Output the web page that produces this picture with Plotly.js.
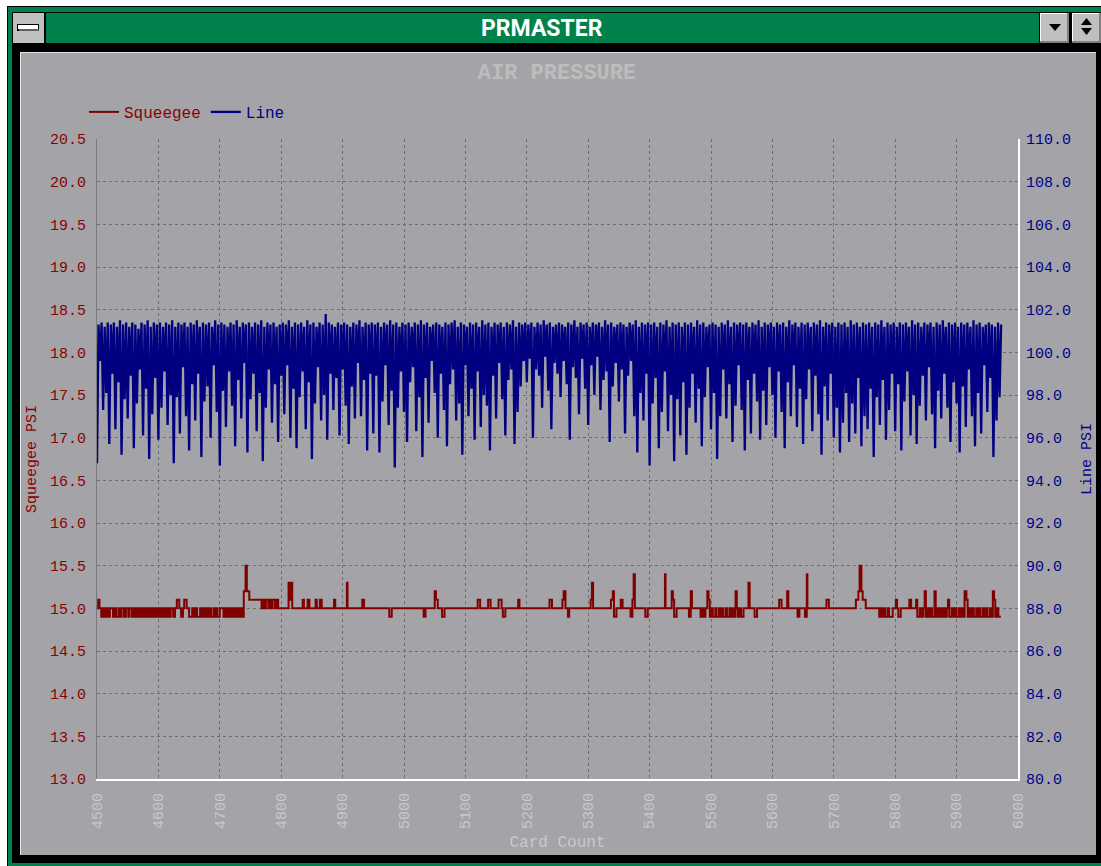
<!DOCTYPE html>
<html>
<head>
<meta charset="utf-8">
<script src="https://cdn.plot.ly/plotly-3.0.1.min.js"></script>
<style>
  html, body { margin: 0; padding: 0; background: #000; }
  #chart { width: 1101px; height: 866px; }
</style>
</head>
<body>
<div id="chart"></div>
<script>
// ---------------- DATA ----------------
const chartTitle = 'AIR PRESSURE';
const windowTitle = 'PRMASTER';
const seriesNames = ['Squeegee', 'Line'];

// x-axis ticks (card count) and the two y-axis tick sets
const cardTicks = [4500, 4600, 4700, 4800, 4900, 5000, 5100, 5200, 5300, 5400, 5500, 5600, 5700, 5800, 5900, 6000];
const squeegeeTicks = [13.0, 13.5, 14.0, 14.5, 15.0, 15.5, 16.0, 16.5, 17.0, 17.5, 18.0, 18.5, 19.0, 19.5, 20.0, 20.5];
const lineTicks = [80, 82, 84, 86, 88, 90, 92, 94, 96, 98, 100, 102, 104, 106, 108, 110];

// Squeegee PSI: [card count where the reading changes, new reading] (drawn as steps)
const squeegeeSteps = [
  [4500,15.0],[4502,15.1],[4504,15.0],[4507,14.9],[4509,15.0],[4512,14.9],[4515,15.0],[4518,14.9],[4521,15.0],[4526,14.9],
  [4529,15.0],[4532,14.9],[4536,15.0],[4538,14.9],[4540,15.0],[4544,14.9],[4547,15.0],[4551,14.9],[4553,15.0],[4557,14.9],
  [4560,15.0],[4563,14.9],[4565,15.0],[4566,14.9],[4569,15.0],[4570,14.9],[4573,15.0],[4574,14.9],[4577,15.0],[4578,14.9],
  [4580,15.0],[4581,14.9],[4583,15.0],[4584,14.9],[4587,15.0],[4588,14.9],[4590,15.0],[4591,14.9],[4593,15.0],[4594,14.9],
  [4596,15.0],[4597,14.9],[4600,15.0],[4601,14.9],[4604,15.0],[4606,14.9],[4608,15.0],[4609,14.9],[4612,15.0],[4613,14.9],
  [4615,15.0],[4618,14.9],[4620,15.0],[4624,14.9],[4627,15.0],[4630,15.1],[4634,15.0],[4637,14.9],[4640,15.0],[4642,15.1],
  [4646,15.0],[4650,14.9],[4655,15.0],[4658,14.9],[4661,15.0],[4663,14.9],[4668,15.0],[4670,14.9],[4673,15.0],[4674,14.9],
  [4677,15.0],[4678,14.9],[4680,15.0],[4682,14.9],[4685,15.0],[4686,14.9],[4690,15.0],[4692,14.9],[4695,15.0],[4696,14.9],
  [4700,15.0],[4706,14.9],[4708,15.0],[4709,14.9],[4711,15.0],[4712,14.9],[4714,15.0],[4715,14.9],[4717,15.0],[4718,14.9],
  [4721,15.0],[4722,14.9],[4724,15.0],[4725,14.9],[4727,15.0],[4728,14.9],[4731,15.0],[4732,14.9],[4734,15.0],[4735,14.9],
  [4737,15.0],[4738,14.9],[4739,15.2],[4742,15.5],[4744,15.2],[4748,15.1],[4768,15.0],[4770,15.1],[4773,15.0],[4775,15.1],
  [4779,15.0],[4781,15.1],[4784,15.0],[4786,15.1],[4790,15.0],[4792,15.1],[4795,15.0],
  [4812,15.3],[4814,15.1],[4816,15.3],[4818,15.0],[4835,15.1],[4837,15.0],[4843,15.1],[4846,15.0],[4856,15.1],[4858,15.0],
  [4863,15.1],[4866,15.0],[4886,15.1],[4888,15.0],[4907,15.3],[4908,15.0],[4932,15.1],[4935,15.0],[4976,14.9],[4980,15.0],
  [5032,14.9],[5035,15.0],[5050,15.2],[5052,15.1],[5055,15.0],[5062,14.9],[5066,15.0],[5120,15.1],[5124,15.0],[5137,15.1],
  [5141,15.0],[5154,15.1],[5159,15.0],[5161,14.9],[5165,15.0],[5186,15.1],[5188,15.0],[5237,15.1],[5241,15.0],[5258,15.1],
  [5260,15.2],[5263,15.0],[5267,14.9],[5269,15.0],[5304,15.1],[5306,15.3],[5308,15.0],[5337,15.1],[5340,15.2],[5342,14.9],
  [5346,15.0],[5353,15.1],[5356,15.0],[5369,14.9],[5372,15.1],[5374,15.4],[5376,15.0],[5393,14.9],[5397,15.0],[5425,15.4],
  [5426,15.0],[5436,15.2],[5438,15.1],[5440,14.9],[5444,15.0],[5464,14.9],[5467,15.2],[5469,15.0],[5483,14.9],[5486,15.0],
  [5488,14.9],[5491,15.0],[5494,15.2],[5496,15.1],[5498,14.9],[5501,15.0],[5503,14.9],[5507,15.0],[5509,14.9],[5513,15.0],
  [5515,14.9],[5518,15.0],[5520,14.9],[5524,15.0],[5526,14.9],[5530,15.0],[5532,14.9],[5535,15.0],[5537,14.9],[5540,15.2],
  [5542,15.0],[5544,14.9],[5547,15.0],[5549,14.9],[5553,15.0],[5561,15.3],[5563,15.0],[5571,14.9],[5575,15.0],[5611,15.1],
  [5615,15.0],[5624,15.2],[5626,15.0],[5641,14.9],[5644,15.0],[5653,14.9],[5656,15.4],[5657,15.0],[5688,15.1],[5692,15.0],
  [5736,15.1],[5740,15.2],[5742,15.5],[5745,15.2],[5747,15.1],[5752,15.0],[5774,14.9],[5777,15.0],[5779,14.9],[5782,15.0],
  [5784,14.9],[5788,15.0],[5790,14.9],[5796,15.0],[5801,15.1],[5803,15.0],[5805,14.9],[5809,15.0],[5823,15.1],[5826,15.0],
  [5834,15.1],[5836,14.9],[5840,15.0],[5843,14.9],[5846,15.0],[5848,15.2],[5850,14.9],[5853,15.0],[5855,14.9],[5858,15.0],
  [5860,14.9],[5864,15.2],[5866,14.9],[5869,15.0],[5871,14.9],[5874,15.0],[5876,14.9],[5879,15.0],[5881,14.9],[5884,15.0],
  [5886,15.1],[5888,14.9],[5892,15.0],[5894,14.9],[5897,15.0],[5899,14.9],[5903,15.0],[5905,14.9],[5908,15.0],[5910,14.9],
  [5913,15.2],[5916,15.1],[5918,14.9],[5921,15.0],[5923,14.9],[5926,15.0],[5928,14.9],[5932,15.0],[5934,14.9],[5937,15.0],
  [5939,14.9],[5943,15.0],[5945,14.9],[5948,15.0],[5950,14.9],[5954,15.0],[5956,14.9],[5959,15.2],[5961,15.1],[5963,14.9],
  [5966,15.0],[5968,14.9],[5972,14.9]
];
const squeegeeCard = squeegeeSteps.map(p => p[0]);
const squeegeePsi = squeegeeSteps.map(p => p[1]);

// Line PSI: one reading every 2.5 cards starting at card 4500
const lineFirstCard = 4500;
const lineCardStep = 2.5;
const linePsi = [
  94.8,101.3,99.6,101.4,97.3,101.2,98.1,101.4,95.7,101.3,99.0,101.4,96.4,101.2,98.6,101.5,95.2,101.3,97.8,101.4,
  96.9,101.2,98.9,101.4,95.5,101.3,97.6,101.1,99.2,101.4,96.1,101.3,98.3,101.5,95.0,101.2,97.1,101.4,98.8,101.3,
  95.9,101.4,97.4,101.2,99.1,101.4,96.6,101.3,98.0,101.5,94.8,101.2,97.9,101.4,96.2,101.3,99.3,101.4,97.0,101.2,
  95.4,101.4,98.5,101.3,96.8,101.5,99.0,101.2,95.1,101.4,97.7,101.3,98.4,101.4,96.0,101.2,99.4,101.5,97.2,101.3,
  94.7,101.4,98.2,101.3,96.5,101.2,99.1,101.4,97.5,101.3,95.6,101.5,98.7,101.2,96.9,101.4,99.5,101.3,95.3,101.4,
  97.8,101.2,99.0,101.4,96.3,101.3,98.1,101.5,94.9,101.2,97.4,101.4,99.2,101.3,96.7,101.4,98.5,101.2,95.8,101.3,
  98.9,101.4,97.1,101.3,99.4,101.5,96.0,101.2,98.3,101.4,95.5,101.3,97.9,101.4,99.1,101.2,96.4,101.5,98.6,101.3,
  95.0,101.4,97.6,101.2,99.3,101.4,96.8,101.3,98.0,101.8,95.9,101.4,99.0,101.3,97.3,101.2,98.8,101.4,96.1,101.3,
  99.2,101.4,97.5,101.3,95.7,101.2,98.4,101.4,96.9,101.3,99.5,101.5,97.0,101.2,98.7,101.4,95.4,101.3,99.0,101.4,
  96.2,101.3,98.9,101.4,95.3,101.2,97.7,101.4,99.4,101.3,96.6,101.5,98.2,101.3,94.6,101.4,97.4,101.2,99.1,101.4,
  97.2,101.3,95.8,101.4,98.6,101.2,99.3,101.4,96.3,101.3,97.9,101.5,95.1,101.3,98.8,101.4,96.7,101.2,99.6,101.3,
  98.1,101.4,96.0,101.3,99.0,101.2,97.3,101.4,95.6,101.3,98.5,101.4,99.2,101.5,96.8,101.2,97.6,101.4,95.2,101.3,
  99.4,101.2,97.0,101.4,98.3,101.3,95.9,101.4,99.1,101.2,96.5,101.5,98.0,101.3,97.5,101.4,95.4,101.2,98.9,101.4,
  96.9,101.3,99.5,101.4,97.8,101.2,96.1,101.4,98.7,101.3,99.2,101.5,95.7,101.2,97.2,101.4,98.4,101.3,99.6,101.4,
  98.6,101.3,99.7,101.4,96.0,101.2,99.2,101.4,98.9,101.3,97.4,101.5,99.8,101.3,98.2,101.4,96.4,101.2,99.5,101.3,
  99.0,101.4,97.9,101.3,99.6,101.2,98.5,101.4,95.9,101.3,99.3,101.5,98.8,101.2,97.1,101.4,99.7,101.3,98.3,101.4,
  96.6,101.2,99.4,101.4,98.0,101.3,99.8,101.4,97.3,101.2,98.7,101.5,99.1,101.3,95.8,101.4,98.4,101.2,99.5,101.3,
  97.7,101.4,99.2,101.3,96.2,101.2,98.9,101.4,99.6,101.3,97.0,101.5,95.3,101.2,98.1,101.4,96.8,101.3,99.0,101.4,
  94.7,101.3,97.6,101.4,98.8,101.2,95.5,101.4,97.2,101.3,99.1,101.5,96.3,101.2,98.0,101.4,94.9,101.3,97.8,101.4,
  96.1,101.2,98.6,101.4,95.2,101.3,97.4,101.4,99.0,101.2,96.7,101.5,98.3,101.3,95.6,101.4,97.9,101.2,99.3,101.3,
  96.4,101.4,98.1,101.3,95.0,101.2,97.0,101.4,99.2,101.3,96.9,101.5,98.5,101.2,95.8,101.4,97.5,101.3,99.4,101.4,
  97.3,101.3,95.4,101.4,98.7,101.2,96.2,101.4,99.0,101.3,97.7,101.5,95.9,101.2,98.2,101.4,96.6,101.3,99.3,101.4,
  98.0,101.2,96.0,101.4,99.1,101.3,97.2,101.4,95.5,101.2,98.6,101.5,97.0,101.3,99.4,101.4,96.5,101.2,98.3,101.4,
  95.7,101.3,97.8,101.4,99.2,101.2,96.3,101.4,98.9,101.3,97.1,101.5,95.2,101.2,98.4,101.4,96.8,101.3,99.0,101.4,
  96.0,101.2,97.4,101.4,95.3,101.3,96.7,101.4,98.1,101.2,95.8,101.5,97.6,101.3,96.2,101.4,98.8,101.2,95.6,101.4,
  97.0,101.3,96.4,101.4,98.3,101.2,95.1,101.4,97.9,101.3,96.6,101.5,98.7,101.2,95.9,101.4,97.3,101.3,99.0,101.4,
  96.3,101.2,98.5,101.4,95.4,101.3,97.7,101.4,99.1,101.2,96.1,101.5,98.0,101.3,95.7,101.4,97.5,101.2,98.9,101.4,
  96.8,101.3,99.3,101.4,97.1,101.2,95.5,101.4,98.2,101.3,96.9,101.5,99.0,101.2,97.4,101.4,95.8,101.3,98.6,101.4,
  97.6,101.2,95.3,101.4,98.4,101.3,96.5,101.4,99.2,101.2,97.0,101.5,95.6,101.3,98.1,101.4,96.2,101.2,99.4,101.3,
  97.2,101.4,98.8,101.3,95.1,101.2,96.8,101.4,97.9,101.3
];

// ---------------- STYLE / LAYOUT ----------------
const W = 1101, H = 866;
const PL = 97, PR = 1018, PT = 139, PB = 779;
const X = px => (px - PL) / (PR - PL);
const Y = py => (PB - py) / (PB - PT);

const GREEN = '#00804a', PANEL = '#a4a4a8', BTN = '#c0c0c0';
const MONO = '"Liberation Mono", "DejaVu Sans Mono", monospace';
const RED = '#8c0000', BLUE = '#00008c', LIGHT = '#c9c9c9';

function rect(x0, y0, x1, y1, fill) {
  return { type: 'rect', xref: 'paper', yref: 'paper', layer: 'below',
    x0: X(x0), x1: X(x1), y0: Y(y1), y1: Y(y0), fillcolor: fill, line: { width: 0 } };
}
function poly(pts, fill) {
  const d = pts.map((p, i) => (i ? 'L' : 'M') + X(p[0]) + ',' + Y(p[1])).join(' ') + ' Z';
  return { type: 'path', xref: 'paper', yref: 'paper', layer: 'below', path: d,
    fillcolor: fill, line: { width: 0 } };
}
function button(x0, y0, x1, y1) {
  return [
    rect(x0, y0, x1, y1, BTN),
    rect(x0, y0, x1, y0 + 1, '#ffffff'),
    rect(x0, y0, x0 + 1, y1, '#ffffff'),
    rect(x0, y1 - 2, x1, y1, '#808080'),
    rect(x1 - 2, y0, x1, y1, '#808080')
  ];
}

const shapes = [
  rect(0, 0, W, 6, '#ffffff'),
  rect(0, 0, 7, H, '#ffffff'),
  rect(8, 7, W, 12, GREEN),
  rect(8, 7, 12, H, GREEN),
  rect(8, 863, W, H, GREEN),
  rect(13, 13, 44, 43, BTN),
  rect(17, 24, 39, 31, '#000000'),
  rect(18, 25, 38, 29, '#ffffff'),
  rect(19, 29, 39, 31, '#606060'),
  rect(46, 13, 1039, 43, GREEN),
  ...button(1040, 13, 1069, 43),
  poly([[1049, 24], [1061, 24], [1055, 31]], '#000000'),
  ...button(1072, 13, W, 43),
  poly([[1081, 25], [1092, 25], [1086.5, 18]], '#000000'),
  poly([[1081, 28], [1092, 28], [1086.5, 35]], '#000000'),
  rect(20, 52, 1096, 855, PANEL),
  rect(20, 52, 1096, 53, '#e0e0e0'),
  rect(20, 52, 21, 855, '#e8e8e8')
];

const annotations = [
  { xref: 'paper', yref: 'paper', x: X(542), y: Y(28), text: windowTitle, showarrow: false,
    xanchor: 'center', yanchor: 'middle',
    font: { family: 'Roboto, "Liberation Sans", sans-serif', size: 23, color: '#ffffff', weight: 'bold' } }
];

const traces = [
  {
    type: 'scatter', mode: 'lines', name: '<span style="color:' + RED + '">' + seriesNames[0] + '</span>',
    x: squeegeeCard, y: squeegeePsi, yaxis: 'y',
    line: { color: '#800000', width: 2, shape: 'hv' }
  },
  {
    type: 'scatter', mode: 'lines', name: '<span style="color:' + BLUE + '">' + seriesNames[1] + '</span>',
    x0: lineFirstCard, dx: lineCardStep, y: linePsi, yaxis: 'y2',
    line: { color: '#000080', width: 2.3 }
  }
];

const gridStyle = { showgrid: true, gridcolor: '#6e6e6e', gridwidth: 1, griddash: '3px,3px' };

const layout = {
  width: W, height: H,
  paper_bgcolor: '#000000', plot_bgcolor: 'rgba(0,0,0,0)',
  margin: { l: PL, r: W - PR, t: PT, b: H - PB, pad: 0 },
  font: { family: MONO, size: 15 },
  title: { text: chartTitle, xref: 'container', yref: 'container', x: 557 / W, y: 1 - 71 / H,
    xanchor: 'center', yanchor: 'middle',
    font: { family: MONO, size: 22, color: '#bdbdbd', weight: 'bold' } },
  showlegend: true,
  legend: { orientation: 'h', xref: 'container', yref: 'container', x: 84 / W, y: 1 - 112 / H,
    xanchor: 'left', yanchor: 'middle', bgcolor: 'rgba(0,0,0,0)', borderwidth: 0,
    font: { family: MONO, size: 16 } },
  xaxis: Object.assign({}, gridStyle, {
    range: [4500, 6000], tickmode: 'array', tickvals: cardTicks, ticktext: cardTicks.map(String),
    tickangle: -90, ticks: '', ticklabelstandoff: 6,
    tickfont: { family: MONO, size: 15, color: LIGHT },
    showline: true, linecolor: '#ffffff', linewidth: 2, zeroline: false,
    title: { text: 'Card Count', standoff: 8, font: { family: MONO, size: 16, color: LIGHT } }
  }),
  yaxis: Object.assign({}, gridStyle, {
    range: [13, 20.5], tickmode: 'array', tickvals: squeegeeTicks, tickformat: '.1f',
    ticks: '', ticklabelstandoff: 7,
    tickfont: { family: MONO, size: 15, color: RED },
    showline: true, linecolor: '#7a7a7a', linewidth: 1, zeroline: false,
    title: { text: 'Squeegee PSI', standoff: 9, font: { family: MONO, size: 15, color: RED } }
  }),
  yaxis2: {
    overlaying: 'y', side: 'right', range: [80, 110], tickmode: 'array', tickvals: lineTicks,
    tickformat: '.1f', ticks: '', ticklabelstandoff: 3, showgrid: false,
    tickfont: { family: MONO, size: 15, color: BLUE },
    showline: true, linecolor: '#ffffff', linewidth: 2, zeroline: false,
    title: { text: 'Line PSI', standoff: 10, font: { family: MONO, size: 15, color: BLUE } }
  },
  shapes: shapes,
  annotations: annotations
};

Plotly.newPlot('chart', traces, layout, { displayModeBar: false, staticPlot: true });
</script>
</body>
</html>
